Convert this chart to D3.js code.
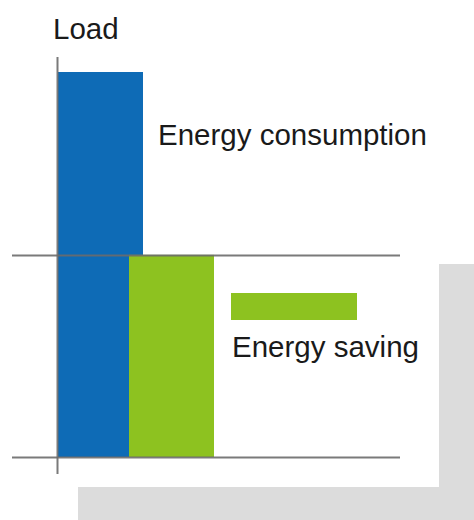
<!DOCTYPE html>
<html>
<head>
<meta charset="utf-8">
<script src="https://cdn.jsdelivr.net/npm/d3@7"></script>
<style>
html,body{margin:0;padding:0;background:#fff;}
svg{display:block;}
text{font-family:"Liberation Sans",Arial,Helvetica,sans-serif;fill:#1a1a1a;}
</style>
</head>
<body>
<svg id="chart" width="474" height="520"></svg>
<script>
// Data
const categories = ["Energy consumption", "Energy saving"];
const barValues = [100, 52.5];          // load level of each bar (bottom at 0)
const referenceLines = [52.5, 0];       // horizontal reference lines
const axisTitle = "Load";
const legendLabel = "Energy saving";
const annotationLabel = "Energy consumption";

const colors = ["#0e6bb6", "#8dc220"];

const svg = d3.select("#chart");

// Scales
const y = d3.scaleLinear().domain([0, 100]).range([457, 72]);
const x = d3.scaleLinear().domain([0, 1]).range([58, 129]);
const barW = 85;

// Gray shadow frame
svg.append("rect").attr("x", 78).attr("y", 487).attr("width", 396).attr("height", 33).attr("fill", "#dcdcdc");
svg.append("rect").attr("x", 439).attr("y", 264).attr("width", 35).attr("height", 256).attr("fill", "#dcdcdc");

// Bars
svg.selectAll("rect.bar")
  .data(barValues)
  .enter().append("rect")
  .attr("class", "bar")
  .attr("x", (d, i) => x(i))
  .attr("y", d => y(d))
  .attr("width", barW)
  .attr("height", d => y(0) - y(d))
  .attr("fill", (d, i) => colors[i]);

// Reference horizontal lines
svg.selectAll("line.ref")
  .data(referenceLines)
  .enter().append("line")
  .attr("class", "ref")
  .attr("x1", 12).attr("x2", 400)
  .attr("y1", d => Math.round(y(d)) + 0.5)
  .attr("y2", d => Math.round(y(d)) + 0.5)
  .attr("stroke", "#6b6b6b")
  .attr("stroke-opacity", 0.9)
  .attr("stroke-width", 2);

// Vertical axis
svg.append("line")
  .attr("x1", 57.5).attr("x2", 57.5)
  .attr("y1", 57).attr("y2", 474)
  .attr("stroke", "#6b6b6b")
  .attr("stroke-opacity", 0.9)
  .attr("stroke-width", 2);

// Axis title
svg.append("text").attr("x", 53).attr("y", 39).attr("font-size", 29.5).text(axisTitle);

// Annotation
svg.append("text").attr("x", 158).attr("y", 145).attr("font-size", 29.5).text(annotationLabel);

// Legend
svg.append("rect").attr("x", 231).attr("y", 293).attr("width", 126).attr("height", 27).attr("fill", colors[1]);
svg.append("text").attr("x", 232).attr("y", 357).attr("font-size", 29.5).text(legendLabel);
</script>
</body>
</html>
